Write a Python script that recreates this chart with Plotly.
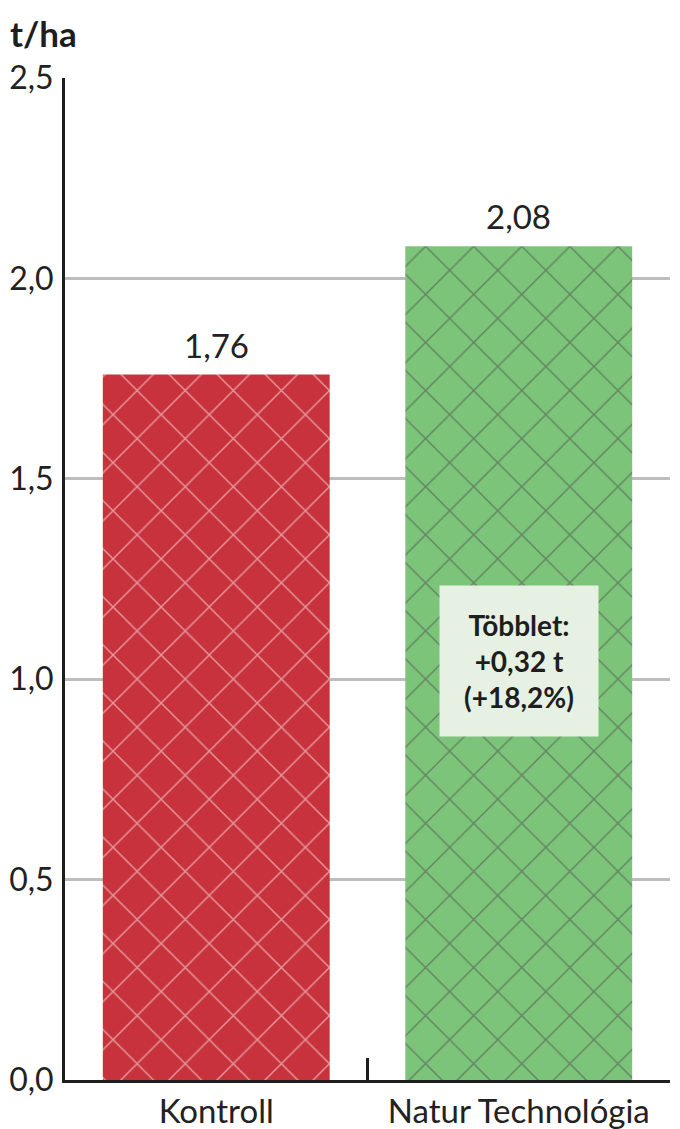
import plotly.graph_objects as go

categories = ["Kontroll", "Natur Technológia"]
values = [1.76, 2.08]
value_labels = ["1,76", "2,08"]
bar_colors = ["#c8323c", "#7dc47b"]
pattern_colors = ["#d4525b", "#6cb06a"]
y_ticks = [0, 0.5, 1.0, 1.5, 2.0, 2.5]
y_tick_labels = ["0,0", "0,5", "1,0", "1,5", "2,0", "2,5"]
unit_label = "t/ha"
note_text = "Többlet:<br>+0,32 t<br>(+18,2%)"
note_y = 1.045

FONT = "Lato"

fig = go.Figure()
fig.add_trace(go.Bar(
    x=categories,
    y=values,
    marker=dict(
        color=bar_colors,
        line=dict(width=0),
        pattern=dict(shape="x", fgcolor=pattern_colors, size=34, solidity=0.08, fillmode="overlay"),
    ),
    width=0.75,
    hoverinfo="skip",
))

# value labels above the bars
for cat, val, lab in zip(categories, values, value_labels):
    fig.add_annotation(
        x=cat, y=val, xref="x", yref="y",
        text=lab, showarrow=False,
        yanchor="bottom", yshift=8,
        font=dict(family=FONT, size=33, color="#222222"),
    )

fig.add_annotation(
    x=1, y=note_y, xref="x", yref="y",
    text="<b>" + note_text + "</b>",
    showarrow=False,
    font=dict(family=FONT, size=28, color="#1e1e1e"),
    bgcolor="#e6f1e3",
    width=128, height=120, borderpad=15,
    align="center",
)

fig.add_annotation(
    x=-0.094, y=1.045, xref="paper", yref="paper",
    text="<b>" + unit_label + "</b>",
    showarrow=False, xanchor="left", yanchor="middle",
    font=dict(family=FONT, size=35, color="#1e1e1e"),
)

# page body adds an 8px offset; compensate so the plot area lands at x 65..670, y 78..1080
fig.update_layout(
    template="none",
    width=672, height=1121,
    margin=dict(l=57, r=10, t=70, b=49, autoexpand=False),
    paper_bgcolor="white", plot_bgcolor="white",
    showlegend=False,
    separators=",.",
    font=dict(family=FONT, color="#222222"),
)

fig.update_xaxes(
    type="category",
    showgrid=False,
    showline=True, linecolor="#1e1e1e", linewidth=3,
    ticks="inside", tickson="boundaries", ticklen=22, tickwidth=3, tickcolor="#1e1e1e",
    tickfont=dict(family=FONT, size=33, color="#222222"),
    ticklabelstandoff=0,
    automargin=False,
    range=[-0.5, 1.5],
    zeroline=False,
)

fig.update_yaxes(
    range=[0, 2.5],
    tickvals=y_ticks, ticktext=y_tick_labels,
    showgrid=True, gridcolor="#bdbdbd", gridwidth=3,
    showline=True, linecolor="#1e1e1e", linewidth=3,
    ticks="", ticklabelstandoff=2,
    tickfont=dict(family=FONT, size=32, color="#222222"),
    zeroline=False,
    automargin=False,
)

fig.write_html("out.html")
